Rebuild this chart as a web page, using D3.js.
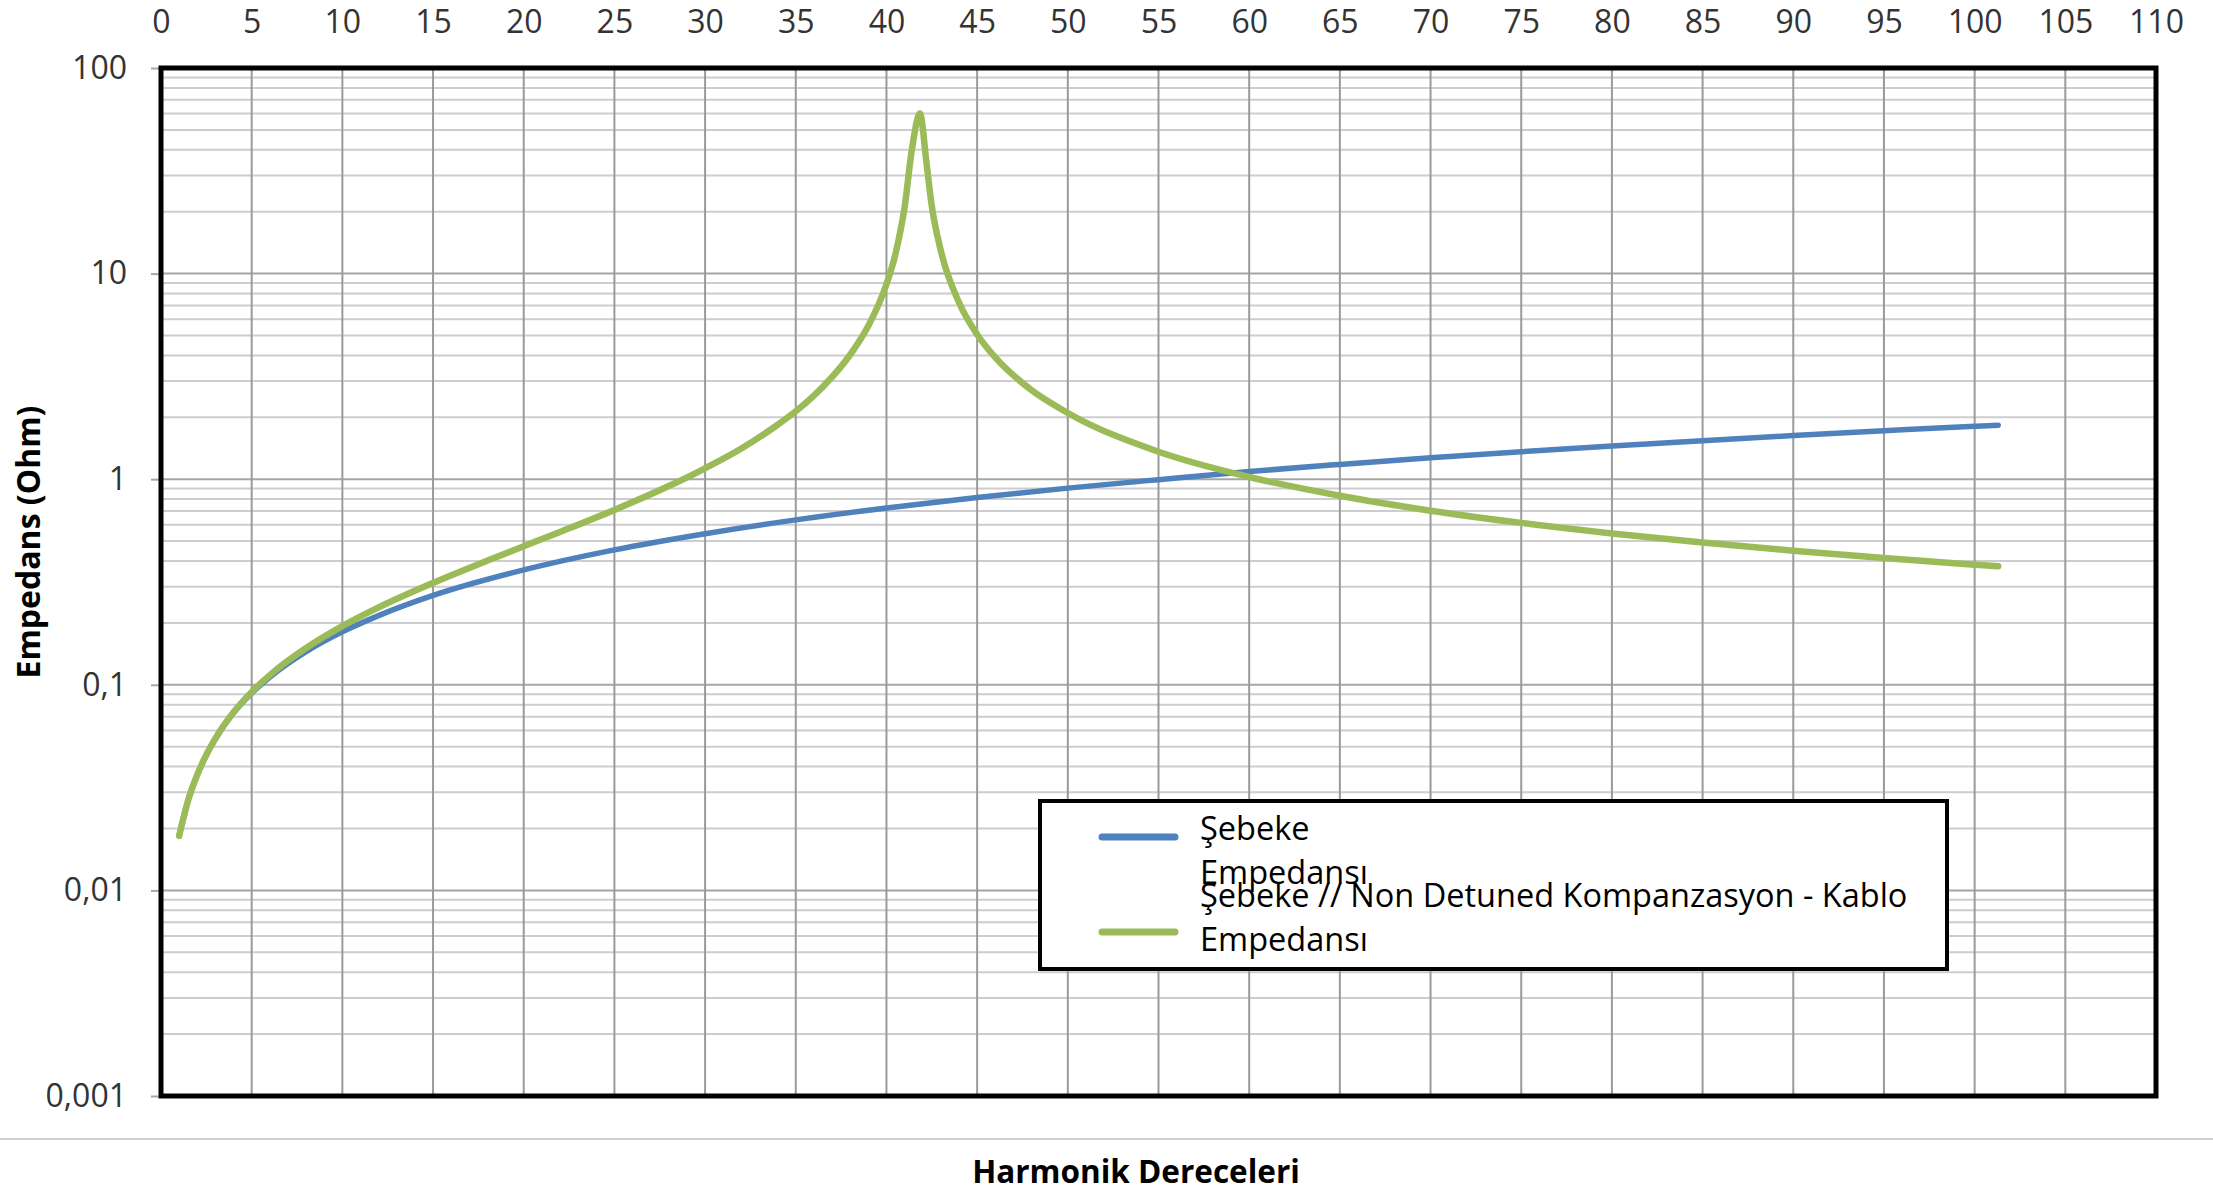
<!DOCTYPE html>
<html>
<head>
<meta charset="utf-8">
<script src="https://cdn.jsdelivr.net/npm/d3@7"></script>
<style>
  body { margin: 0; background: #fff; }
  text { font-family: "Open Sans", sans-serif; }
</style>
</head>
<body>
<div id="chart"></div>
<script>
const width = 2213, height = 1193;
const margin = {left: 161, right: 57, top: 68, bottom: 97};

// harmonic orders and impedance (Ohm)
const blueH = [1, 1.5, 2, 2.5, 3, 4, 5, 6, 8, 10, 12, 15, 20, 25, 30, 35, 40, 45, 50, 55, 60, 65, 70, 75, 80, 85, 90, 95, 100, 101.3];
const blueZ = [0.0184, 0.0275, 0.0365, 0.0456, 0.0545, 0.073, 0.091, 0.109, 0.145, 0.181, 0.217, 0.272, 0.362, 0.453, 0.543, 0.634, 0.724, 0.815, 0.905, 0.995, 1.09, 1.18, 1.27, 1.36, 1.45, 1.54, 1.63, 1.72, 1.81, 1.83];

const greenH = [1, 1.5, 2, 2.5, 3, 4, 5, 6, 8, 10, 12, 15, 18, 20, 22, 25, 28, 30, 32, 34, 35, 36, 37, 38, 39, 40, 40.5, 41, 41.4, 41.85, 42.2, 42.5, 43, 44, 45, 46, 48, 50, 55, 60, 65, 70, 75, 80, 85, 90, 95, 100, 101.3];
const greenZ = [0.0184, 0.0275, 0.0365, 0.0457, 0.0549, 0.0735, 0.0923, 0.1115, 0.151, 0.193, 0.238, 0.313, 0.402, 0.472, 0.554, 0.709, 0.926, 1.13, 1.41, 1.84, 2.14, 2.55, 3.14, 4.03, 5.57, 8.88, 12.5, 21, 40, 60, 35, 21.3, 12.9, 7.23, 5.06, 3.91, 2.71, 2.1, 1.36, 1.025, 0.831, 0.703, 0.613, 0.545, 0.492, 0.449, 0.414, 0.384, 0.377];

const xTicks = d3.range(0, 111, 5);
const yTicks = [0.001, 0.01, 0.1, 1, 10, 100];
const legendLabels = [["Şebeke", "Empedansı"], ["Şebeke // Non Detuned Kompanzasyon - Kablo", "Empedansı"]];
const colors = ["#4F81BD", "#9BBB59"];

const svg = d3.select("#chart").append("svg")
    .attr("width", width)
    .attr("height", height);

const x = d3.scaleLinear().domain([0, 110]).range([margin.left, width - margin.right]);
const y = d3.scaleLog().domain([0.001, 100]).range([height - margin.bottom, margin.top]);

// grid
const minor = [];
yTicks.slice(0, -1).forEach(d => { for (let k = 2; k <= 9; k++) minor.push(d * k); });

svg.append("g").selectAll("line")
    .data(minor)
    .enter().append("line")
    .attr("x1", x(0)).attr("x2", x(110))
    .attr("y1", d => y(d)).attr("y2", d => y(d))
    .attr("stroke", "#cdcdcd")
    .attr("stroke-width", 2);

svg.append("g").selectAll("line")
    .data(yTicks)
    .enter().append("line")
    .attr("x1", x(0)).attr("x2", x(110))
    .attr("y1", d => y(d)).attr("y2", d => y(d))
    .attr("stroke", "#a6a6a6")
    .attr("stroke-width", 2);

svg.append("g").selectAll("line")
    .data(xTicks)
    .enter().append("line")
    .attr("x1", d => x(d)).attr("x2", d => x(d))
    .attr("y1", y(100)).attr("y2", y(0.001))
    .attr("stroke", "#9a9a9a")
    .attr("stroke-width", 2);

// axes
const xAxis = svg.append("g")
    .attr("transform", "translate(0," + margin.top + ")")
    .call(d3.axisTop(x).tickValues(xTicks).tickSize(0).tickPadding(35));
xAxis.select(".domain").remove();
xAxis.selectAll("text").attr("font-size", 32).attr("fill", "#333").style("font-family", "'Open Sans'");

const yAxis = svg.append("g")
    .attr("transform", "translate(" + margin.left + ",0)")
    .call(d3.axisLeft(y).tickValues(yTicks).tickSize(10).tickPadding(24)
        .tickFormat(d => String(d).replace(".", ",")));
yAxis.select(".domain").remove();
yAxis.selectAll("line").attr("stroke", "#a6a6a6").attr("stroke-width", 2);
yAxis.selectAll("text").attr("font-size", 32).attr("fill", "#333").style("font-family", "'Open Sans'");

// curves
const line = d3.line()
    .x(d => x(d[0]))
    .y(d => y(d[1]))
    .curve(d3.curveMonotoneX);

const series = [d3.zip(blueH, blueZ), d3.zip(greenH, greenZ)];

svg.append("g").selectAll("path")
    .data(series)
    .enter().append("path")
    .attr("d", line)
    .attr("fill", "none")
    .attr("stroke", (d, i) => colors[i])
    .attr("stroke-width", (d, i) => i ? 6.5 : 5.5)
    .attr("stroke-linecap", "round")
    .attr("stroke-linejoin", "round");

// frame
svg.append("rect")
    .attr("x", x(0)).attr("y", y(100))
    .attr("width", x(110) - x(0))
    .attr("height", y(0.001) - y(100))
    .attr("fill", "none")
    .attr("stroke", "#000")
    .attr("stroke-width", 5);

// legend
const legend = svg.append("g");
legend.append("rect")
    .attr("x", 1040).attr("y", 801)
    .attr("width", 907).attr("height", 168)
    .attr("fill", "#fff")
    .attr("stroke", "#000")
    .attr("stroke-width", 4);

const items = legend.selectAll(".item")
    .data(legendLabels)
    .enter().append("g")
    .attr("class", "item");

items.append("line")
    .attr("x1", 1102).attr("x2", 1175)
    .attr("y1", (d, i) => i ? 932 : 837)
    .attr("y2", (d, i) => i ? 932 : 837)
    .attr("stroke", (d, i) => colors[i])
    .attr("stroke-width", 7)
    .attr("stroke-linecap", "round");

items.append("text")
    .attr("x", 1200)
    .attr("y", (d, i) => i ? 907 : 840)
    .attr("font-size", 32.5)
    .attr("fill", "#000")
    .selectAll("tspan")
    .data(d => d)
    .enter().append("tspan")
    .attr("x", 1200)
    .attr("dy", (d, i) => i ? 44 : 0)
    .text(d => d);

// separator and titles
svg.append("line")
    .attr("x1", 0).attr("x2", width)
    .attr("y1", 1139).attr("y2", 1139)
    .attr("stroke", "#bfbfbf")
    .attr("stroke-width", 1.5);

svg.append("text")
    .attr("x", 1136).attr("y", 1183)
    .attr("text-anchor", "middle")
    .attr("font-size", 31.5)
    .attr("font-weight", "bold")
    .text("Harmonik Dereceleri");

svg.append("text")
    .attr("transform", "translate(40,542) rotate(-90)")
    .attr("text-anchor", "middle")
    .attr("font-size", 32)
    .attr("font-weight", "bold")
    .text("Empedans (Ohm)");
</script>
</body>
</html>
